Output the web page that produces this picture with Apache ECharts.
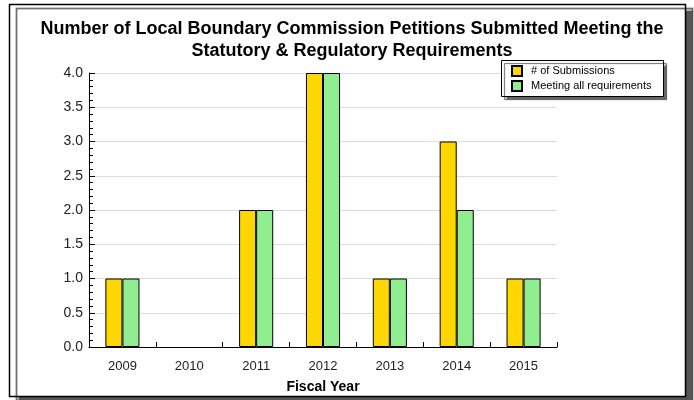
<!DOCTYPE html>
<html>
<head>
<meta charset="utf-8">
<script src="https://cdn.jsdelivr.net/npm/echarts@6/dist/echarts.min.js"></script>
<style>
  html, body { margin: 0; padding: 0; background: #fff; }
  #chart { width: 694px; height: 400px; }
</style>
</head>
<body>
<div id="chart"></div>
<script>
const years = ["2009", "2010", "2011", "2012", "2013", "2014", "2015"];
const submissions = [1, 0, 2, 4, 1, 3, 1];
const meetingAll = [1, 0, 2, 4, 1, 2, 1];

const FONT = "Liberation Sans, Arial, sans-serif";

// zero-height bars are not drawn in the original
const hideZero = (arr) => arr.map((v) => (v === 0 ? "-" : v));

const chart = echarts.init(document.getElementById("chart"));

chart.setOption({
  animation: false,
  textStyle: { fontFamily: FONT },
  graphic: [
    {
      type: "rect",
      z: -10,
      shape: { x: 9.5, y: 4.5, width: 676, height: 392 },
      style: {
        fill: "#fff",
        stroke: "#000",
        lineWidth: 1.5,
        shadowColor: "#555",
        shadowOffsetX: 7,
        shadowOffsetY: 4,
        shadowBlur: 1,
      },
    },
    {
      type: "rect",
      z: 5,
      shape: { x: 501.5, y: 60.5, width: 162, height: 36 },
      style: {
        fill: "#fff",
        stroke: "#000",
        lineWidth: 1,
        shadowColor: "#666",
        shadowOffsetX: 3,
        shadowOffsetY: 3,
        shadowBlur: 1,
      },
    },
  ],
  title: {
    text: "Number of Local Boundary Commission Petitions Submitted Meeting the\nStatutory & Regulatory Requirements",
    left: 347,
    top: 13,
    textAlign: "center",
    textStyle: {
      fontFamily: FONT,
      fontSize: 18,
      fontWeight: "bold",
      color: "#000",
      lineHeight: 22,
    },
  },
  legend: {
    orient: "vertical",
    left: 511,
    top: 65,
    z: 6,
    icon: "rect",
    itemWidth: 10,
    itemHeight: 10,
    itemGap: 3,
    padding: 0,
    textStyle: { fontFamily: FONT, fontSize: 11, color: "#000", padding: [0, 0, 0, 4] },
    data: ["# of Submissions", "Meeting all requirements"],
  },
  grid: { left: 89, right: 137, top: 73, bottom: 53, outerBoundsMode: "none", containLabel: false },
  xAxis: {
    type: "category",
    data: years,
    name: "Fiscal Year",
    nameLocation: "middle",
    nameGap: 33,
    nameTextStyle: { fontFamily: FONT, fontSize: 14, fontWeight: "bold", color: "#000" },
    axisLine: { lineStyle: { color: "#000", width: 1 } },
    axisTick: { show: true, interval: 0, inside: true, length: 5, lineStyle: { color: "#000" } },
    axisLabel: { fontFamily: FONT, fontSize: 13, color: "#222", margin: 13 },
  },
  yAxis: {
    type: "value",
    min: 0,
    max: 4,
    interval: 0.5,
    axisLine: { show: true, lineStyle: { color: "#000", width: 1 } },
    axisTick: { show: true, inside: true, length: 6, lineStyle: { color: "#000" } },
    minorTick: { show: true, splitNumber: 5, length: 4, lineStyle: { color: "#000" } },
    axisLabel: {
      fontFamily: FONT,
      fontSize: 14,
      color: "#222",
      margin: 6,
      formatter: (v) => v.toFixed(1),
    },
    splitLine: { lineStyle: { color: "#ddd" } },
  },
  series: [
    {
      name: "# of Submissions",
      type: "bar",
      data: hideZero(submissions),
      barGap: "0%",
      barCategoryGap: "49%",
      itemStyle: { color: "#FFD700", borderColor: "#000", borderWidth: 1 },
    },
    {
      name: "Meeting all requirements",
      type: "bar",
      data: hideZero(meetingAll),
      itemStyle: { color: "#90EE90", borderColor: "#000", borderWidth: 1 },
    },
  ],
});
</script>
</body>
</html>
